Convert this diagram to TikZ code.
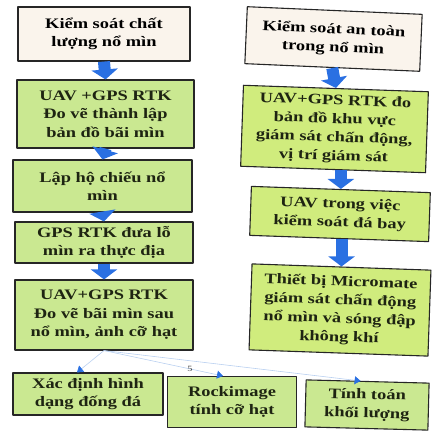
\documentclass[tikz,border=0pt]{standalone}
\usepackage{fontspec}
\setmainfont[FakeStretch=1.27]{Liberation Serif}
\usetikzlibrary{arrows.meta}
\definecolor{boxgreen}{RGB}{202,232,145}
\definecolor{boxlime}{RGB}{208,236,125}
\definecolor{boxcream}{RGB}{250,244,236}
\definecolor{textdark}{RGB}{30,36,18}
\definecolor{flowblue}{RGB}{42,112,226}
\definecolor{linkblue}{RGB}{185,208,240}

\begin{document}
\begin{tikzpicture}[line cap=round,line join=round,x=1pt,y=-1pt,
    box/.style={draw=black!85,line width=1.1pt,fill=boxgreen,align=center,inner sep=1pt,
        font=\bfseries\fontsize{14.5}{18.5}\selectfont,text=textdark},
    headbox/.style={box,fill=boxcream,text=black},
    limebox/.style={box,fill=boxlime,rotate=-2},
    flow/.style={draw=flowblue,line width=12pt,line cap=butt,-{Triangle[width=26pt,length=10pt]}},
    link/.style={draw=linkblue,line width=0.6pt,-{Triangle[color=flowblue,width=8pt,length=6pt]}}]
    \useasboundingbox (0,0) rectangle (434,439);
    \node[headbox,minimum width=172,minimum height=54] (l1) at (104,34) {Kiểm soát chất\\lượng nổ mìn};
    \node[box,minimum width=177,minimum height=68] (l2) at (105.5,114) {UAV +GPS RTK\\Đo vẽ thành lập\\bản đồ bãi mìn};
    \node[box,minimum width=179,minimum height=52] (l3) at (102.5,186) {Lập hộ chiếu nổ\\mìn};
    \node[box,minimum width=178,minimum height=41] (l4) at (104,242.5) {GPS RTK đưa lỗ\\mìn ra thực địa};
    \node[box,minimum width=178,minimum height=70] (l5) at (104,315) {UAV+GPS RTK\\Đo vẽ bãi mìn sau\\nổ mìn, ảnh cỡ hạt};
    \draw[flow] (l1.south) -- (l2.north);
    \draw[flow] (l2.south) -- (l3.north);
    \draw[flow] (l3.south) -- (l4.north);
    \draw[flow] (l4.south) -- (l5.north);
    \node[headbox,rotate=-2.5,minimum width=175,minimum height=57] (r1) at (333.5,39) {Kiểm soát an toàn\\trong nổ mìn};
    \node[limebox,minimum width=185,minimum height=81] (r2) at (334.5,129) {UAV+GPS RTK đo\\bản đồ khu vực\\giám sát chấn động,\\vị trí giám sát};
    \node[limebox,minimum width=179,minimum height=49] (r3) at (340,214) {UAV trong việc\\kiểm soát đá bay};
    \node[limebox,minimum width=179,minimum height=86] (r4) at (340,310) {Thiết bị Micromate\\giám sát chấn động\\nổ mìn và sóng đập\\không khí};
    \draw[flow] (r1.south) -- (r2.north);
    \draw[flow] (r3.north |- r2.south) -- (r3.north);
    \draw[flow] (r4.north |- r3.south) -- (r4.north);
    \node[box,minimum width=150,minimum height=42] (b1) at (88,394) {Xác định hình\\dạng đống đá};
    \node[box,minimum width=129,minimum height=51] (b2) at (232,402) {Rockimage\\tính cỡ hạt};
    \node[box,rotate=-1.5,minimum width=123,minimum height=47] (b3) at (367,405) {Tính toán\\khối lượng};
    \draw[link] (l5.south) -- ([xshift=-11pt]b1.north);
    \draw[link] (l5.south) -- ([xshift=-9pt]b2.north);
    \draw[link] (l5.south) -- ([xshift=-7pt]b3.north);
    \node[font=\fontsize{8}{8}\selectfont,text=black!75] (pg) at (190,369) {5};
\end{tikzpicture}
\end{document}
